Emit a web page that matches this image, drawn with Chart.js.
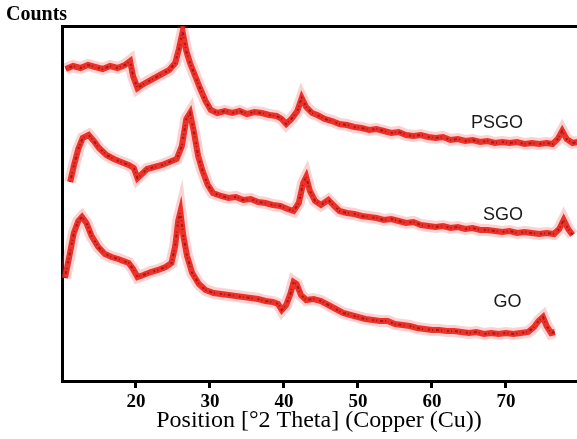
<!DOCTYPE html>
<html>
<head>
<meta charset="utf-8">
<script src="https://cdn.jsdelivr.net/npm/chart.js@4/dist/chart.umd.min.js"></script>
<style>
  html, body { margin: 0; padding: 0; background: #fff; }
  #wrap { width: 577px; height: 439px; }
</style>
</head>
<body>
<div id="wrap"><canvas id="xrd"></canvas></div>
<script>
// x tick labels (°2 Theta)
const tickValues = [20, 30, 40, 50, 60, 70];

// PSGO (top trace)
const psgoX = [10.5, 11.5, 12.5, 13.5, 14.5, 15.5, 16.5, 17.5, 18.5, 19.2, 19.6, 20.2, 20.8, 21.5, 22.5, 23.5, 24.5, 25.3, 25.8, 26.3,
  26.8, 27.3, 28, 28.7, 29.4, 30.1, 31, 32, 33, 34, 35, 36, 37, 38, 39, 39.7, 40.3, 41, 41.8, 42.4,
  43, 43.8, 44.5, 45.5, 46.5, 47.5, 48.5, 49.5, 50.5, 51.5, 52.5, 53.5, 54.5, 55.5, 56.5, 57.5, 58.5, 59.5, 60.5, 61.5,
  62.5, 63.5, 64.5, 65.5, 66.5, 67.5, 68.5, 69.5, 70.5, 71.5, 72.5, 73.5, 74.5, 75.5, 76.3, 77, 77.6, 78.2, 79, 79.7];
const psgoY = [312, 315, 313, 316, 314, 312, 315, 313, 316, 320, 305, 293, 296, 299, 303, 307, 311, 318, 332, 349,
  330, 318, 305, 292, 280, 271, 268, 270, 268, 270, 267, 269, 268, 266, 265, 262, 257, 262, 270, 283,
  274, 268, 266, 262, 260, 257, 256, 254, 253, 251, 252, 250, 248, 249, 246, 245, 246, 244, 243, 244,
  241, 242, 240, 241, 239, 240, 238, 239, 238, 239, 237, 238, 237, 238, 237, 242, 250, 242, 238, 239];

// SGO (middle trace)
const sgoX = [11.1, 11.6, 12.2, 12.8, 13.6, 14.3, 15, 16, 17, 18, 19, 19.7, 20.2, 20.8, 21.5, 22.5, 23.5, 24.5, 25.5, 26.2,
  26.8, 27.3, 27.8, 28.4, 29, 29.7, 30.4, 31.5, 32.5, 33.5, 34.5, 35.5, 36.5, 37.5, 38.5, 39.5, 40.5, 41.3, 42, 42.6,
  43, 43.5, 44.2, 45, 46, 46.8, 47.5, 48.5, 49.5, 50.5, 51.5, 52.5, 53.5, 54.5, 55.5, 56.5, 57.5, 58.5, 59.5, 60.5,
  61.5, 62.5, 63.5, 64.5, 65.5, 66.5, 67.5, 68.5, 69.5, 70.5, 71.5, 72.5, 73.5, 74.5, 75.5, 76.5, 77.2, 77.8, 78.4, 79];
const sgoY = [199, 215, 232, 243, 246, 240, 233, 226, 222, 219, 216, 213, 203, 207, 212, 214, 216, 219, 222, 235,
  262, 268, 250, 225, 210, 196, 188, 185, 183, 184, 181, 182, 179, 178, 176, 175, 172, 170, 178, 198,
  204, 190, 180, 176, 181, 175, 170, 168, 167, 165, 164, 163, 161, 162, 160, 158, 159, 156, 155, 154,
  155, 153, 154, 152, 153, 151, 151, 150, 149, 150, 148, 149, 148, 147, 148, 147, 152, 161, 152, 146];

// GO (bottom trace)
const goX = [10.4, 11, 11.6, 12.2, 12.7, 13.3, 14, 14.9, 15.8, 16.7, 17.6, 18.3, 19, 19.6, 20.2, 21, 22, 23, 24, 24.8,
  25.3, 25.7, 26, 26.4, 26.9, 27.6, 28.5, 29.4, 30.5, 31.5, 32.5, 33.5, 34.5, 35.5, 36.5, 37.5, 38.5, 39.2, 39.7, 40.3,
  40.9, 41.3, 41.7, 42.3, 43, 44, 45, 46, 47, 48, 49, 50, 51, 52, 53, 54, 55, 56, 57, 58,
  59, 60, 61, 62, 63, 64, 65, 66, 67, 68, 69, 70, 71, 72, 73, 73.8, 74.4, 75, 75.5, 76.1, 76.6];
const goY = [103, 125, 148, 160, 164, 158, 145, 134, 127, 124, 122, 120, 118, 112, 104, 106, 109, 111, 114, 118,
  135, 160, 169, 145, 125, 108, 97, 91, 88, 87, 86, 85, 84, 83, 82, 80, 79, 77, 71, 76,
  88, 99, 97, 86, 81, 82, 80, 76, 72, 68, 66, 64, 62, 61, 60, 60, 57, 56, 55, 53,
  52, 51, 51, 50, 50, 49, 48, 49, 47, 48, 47, 48, 47, 48, 49, 54, 60, 64, 55, 48, 49];

const seriesNames = ['PSGO', 'SGO', 'GO'];
// where each name sits: [x in °2θ, y in counts]
const nameSpots = [[68.8, 258], [69.6, 166], [70.2, 79]];

const xMin = 10;
const xMax = 79.6;

function pairs(xs, ys) {
  return xs.map((x, i) => ({ x: x, y: ys[i] }));
}

// each trace is a soft halo, a red band and a speckled dark core
function traceSets(xs, ys) {
  const pts = pairs(xs, ys);
  return [
    { data: pts, borderColor: 'rgba(100,0,10,0.5)', borderWidth: 2, borderDash: [1, 3, 3, 2, 1, 5, 2, 2], pointRadius: 0, tension: 0 },
    { data: pts, borderColor: 'rgba(233,32,22,0.9)', borderWidth: 6, pointRadius: 0, tension: 0 },
    { data: pts, borderColor: 'rgba(238,70,70,0.25)', borderWidth: 12, pointRadius: 0, tension: 0 },
  ];
}

const textPlugin = {
  id: 'xrdText',
  afterDraw(chart) {
    const ctx = chart.ctx;
    const xs = chart.scales.x;
    const ys = chart.scales.y;
    ctx.save();
    ctx.fillStyle = '#000';
    ctx.textBaseline = 'middle';

    ctx.font = 'bold 20px "Liberation Serif"';
    ctx.textAlign = 'left';
    ctx.fillText('Counts', 6, 15);

    ctx.font = '24px "Liberation Serif"';
    ctx.textAlign = 'center';
    ctx.fillText('Position [°2 Theta] (Copper (Cu))', 319, 421);

    ctx.font = '18px "Liberation Sans"';
    ctx.fillStyle = '#1a1a1a';
    seriesNames.forEach((name, i) => {
      ctx.fillText(name, xs.getPixelForValue(nameSpots[i][0]), ys.getPixelForValue(nameSpots[i][1]));
    });
    ctx.restore();
  }
};

const ctx = document.getElementById('xrd').getContext('2d');
new Chart(ctx, {
  type: 'line',
  data: {
    datasets: [
      ...traceSets(psgoX, psgoY),
      ...traceSets(sgoX, sgoY),
      ...traceSets(goX, goY),
    ]
  },
  options: {
    responsive: true,
    maintainAspectRatio: false,
    animation: false,
    layout: { padding: 0 },
    plugins: {
      legend: { display: false },
      tooltip: { enabled: false },
    },
    scales: {
      x: {
        type: 'linear',
        min: xMin,
        max: xMax,
        afterBuildTicks: axis => { axis.ticks = tickValues.map(v => ({ value: v })); },
        afterFit: axis => { axis.height = 58; },
        ticks: {
          autoSkip: false,
          maxRotation: 0,
          padding: 3,
          color: '#000',
          font: { family: '"Liberation Serif"', size: 19, weight: 'bold' },
        },
        grid: { drawOnChartArea: false, drawTicks: true, tickLength: 7, lineWidth: 3, color: '#000' },
        border: { display: true, width: 3, color: '#000' },
      },
      xTop: {
        type: 'linear',
        position: 'top',
        min: xMin,
        max: xMax,
        afterFit: axis => { axis.height = 26; },
        ticks: { display: false },
        grid: { display: false },
        border: { display: true, width: 3, color: '#000' },
      },
      y: {
        min: 0,
        max: 355,
        afterFit: axis => { axis.width = 62; },
        ticks: { display: false },
        grid: { display: false },
        border: { display: true, width: 3, color: '#000' },
      }
    }
  },
  plugins: [textPlugin]
});
</script>
</body>
</html>
